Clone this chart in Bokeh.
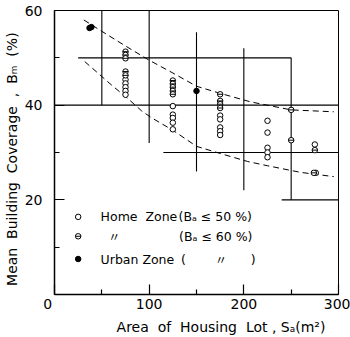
from bokeh.plotting import figure
from bokeh.models import FixedTicker, Range1d
from bokeh.core.properties import value
from bokeh.embed import file_html
from bokeh.resources import INLINE

# ---------------- data ----------------
# Home Zone (Ba <= 50 %)  -> open circles
open_x = [75, 75, 75, 75, 75,
          125, 125, 125, 125, 125,
          175, 175, 175, 175, 175,
          225, 225, 225, 225, 225,
          275, 276]
open_y = [45.4, 44.6, 43.8, 43.0, 42.2,
          39.8, 38.0, 37.3, 36.3, 34.9,
          37.8, 37.0, 35.3, 34.5, 33.7,
          36.7, 34.2, 31.0, 30.0, 29.0,
          31.7, 25.7]

# Home Zone (Ba <= 60 %)  -> circle with bar
theta_x = [75, 75, 75, 75, 75,
           125, 125, 125, 125, 125,
           175, 175, 175, 175,
           250, 250,
           275, 274]
theta_y = [51.3, 50.6, 49.9, 47.1, 46.3,
           45.2, 44.5, 43.8, 43.0, 42.3,
           42.3, 40.9, 40.2, 39.4,
           39.0, 32.6,
           30.5, 25.7]

# Urban Zone -> filled circles
filled_x = [37, 39, 150]
filled_y = [56.3, 56.5, 43.0]

# dashed envelope curves
upper_x = [31, 50, 75, 100, 125, 150, 175, 207, 250, 295]
upper_y = [58.0, 55.6, 52.5, 49.5, 46.8, 44.0, 42.5, 40.7, 39.0, 38.6]
lower_x = [32, 60, 78, 92, 102, 125, 150, 175, 204, 225, 260, 295]
lower_y = [49.2, 44.3, 41.3, 38.8, 37.4, 34.7, 31.3, 29.8, 28.1, 27.2, 25.8, 24.9]

# reference cross lines of the diagram
vert_x = [50, 100, 150, 200, 250]
vert_y0 = [40, 32, 26, 22, 20]
vert_y1 = [60, 60, 55.4, 52, 50]
horiz_y = [50, 40, 30, 20]
horiz_x0 = [25, 0, 115, 240]
horiz_x1 = [250, 300, 300, 300]

x_ticks = [0, 100, 200, 300]
x_minor = [50, 150, 250]
y_ticks = [20, 40, 60]
y_minor = [10, 30, 50]

legend_x = 25
legend_text_x = 48.7
legend_y = [16.4, 12.3, 7.5]

FONT = "DejaVu Sans"
NB = "\u00a0"

p = figure(width=350, height=337, output_backend="svg", toolbar_location=None,
           x_range=Range1d(0, 300), y_range=Range1d(0, 60),
           min_border_left=53, min_border_right=12, min_border_top=10, min_border_bottom=38)
p.grid.visible = False
p.outline_line_color = "black"
p.outline_line_width = 1
p.background_fill_color = "white"
p.border_fill_color = "white"

for ax in (p.xaxis[0], p.yaxis[0]):
    ax.axis_line_width = 1.5
    ax.axis_line_color = "black"
    ax.major_tick_out = 0
    ax.minor_tick_out = 0
    ax.major_tick_in = 10
    ax.minor_tick_in = 5
    ax.major_tick_line_width = 1.2
    ax.minor_tick_line_width = 1.2
    ax.major_label_text_font = FONT
    ax.major_label_text_font_size = "14px"
    ax.major_label_text_color = "black"
    ax.axis_label_text_font = FONT
    ax.axis_label_text_font_size = "14px"
    ax.axis_label_text_font_style = "normal"
    ax.axis_label_text_color = "black"

p.xaxis.ticker = FixedTicker(ticks=x_ticks, minor_ticks=x_minor)
p.yaxis.ticker = FixedTicker(ticks=y_ticks, minor_ticks=y_minor)
p.xaxis.major_label_overrides = {0: "0" + NB * 3}
p.xaxis.major_label_standoff = 1
p.yaxis.major_label_standoff = 12

p.xaxis.axis_label = NB * 11 + "Area" + NB + " of" + NB + " Housing" + NB + " Lot , S\u2090(m\u00b2)"
p.xaxis.axis_label_standoff = 4
p.yaxis.axis_label = ("Mean" + NB + " Building" + NB + " Coverage" + NB + " ," + NB +
                      " B\u2098" + NB + " (%)" + NB * 3)
p.yaxis.axis_label_standoff = 2

# cross lines
p.segment(x0=vert_x, y0=vert_y0, x1=vert_x, y1=vert_y1, line_color="black", line_width=1.1)
p.segment(x0=horiz_x0, y0=horiz_y, x1=horiz_x1, y1=horiz_y, line_color="black", line_width=1.1)

# dashed curves
p.line(upper_x, upper_y, line_color="black", line_width=1, line_dash="6 4")
p.line(lower_x, lower_y, line_color="black", line_width=1, line_dash="6 4")

# points
p.scatter(open_x, open_y, marker="circle", size=5.5, fill_color="white",
          line_color="black", line_width=1)
p.scatter(theta_x, theta_y, marker="circle", size=5.5, fill_color="white",
          line_color="black", line_width=1)
p.scatter(theta_x, theta_y, marker="dash", size=5.5, line_color="black", line_width=1)
p.scatter(filled_x, filled_y, marker="circle", size=5.5, fill_color="black",
          line_color="black", line_width=1)

# legend
p.scatter([legend_x], [legend_y[0]], marker="circle", size=5.5, fill_color="white", line_color="black")
p.scatter([legend_x], [legend_y[1]], marker="circle", size=5.5, fill_color="white", line_color="black")
p.scatter([legend_x], [legend_y[1]], marker="dash", size=5.5, line_color="black")
p.scatter([legend_x], [legend_y[2]], marker="circle", size=5.5, fill_color="black", line_color="black")

tkw = dict(text_font=value(FONT), text_font_size="12.5px", text_color="black",
           text_baseline="middle")
p.text(x=[legend_text_x, 131.0], y=[legend_y[0]] * 2,
       text=["Home" + NB + " Zone", "(B\u2090 \u2264 50 %)"], **tkw)
p.text(x=[131.6], y=[legend_y[1]], text=["(B\u2090 \u2264 60 %)"], **tkw)
p.text(x=[legend_text_x, 133.7, 207.4], y=[legend_y[2]] * 3,
       text=["Urban Zone", "(", ")"], **tkw)
p.text(x=[63.2, 175.8], y=[legend_y[1], legend_y[2]], text=["\u3003", "\u3003"],
       text_font=value("Noto Sans CJK JP"), text_font_size="12px", text_color="black",
       text_baseline="middle", text_align="center")

open("out.html", "w").write(file_html(p, INLINE))
